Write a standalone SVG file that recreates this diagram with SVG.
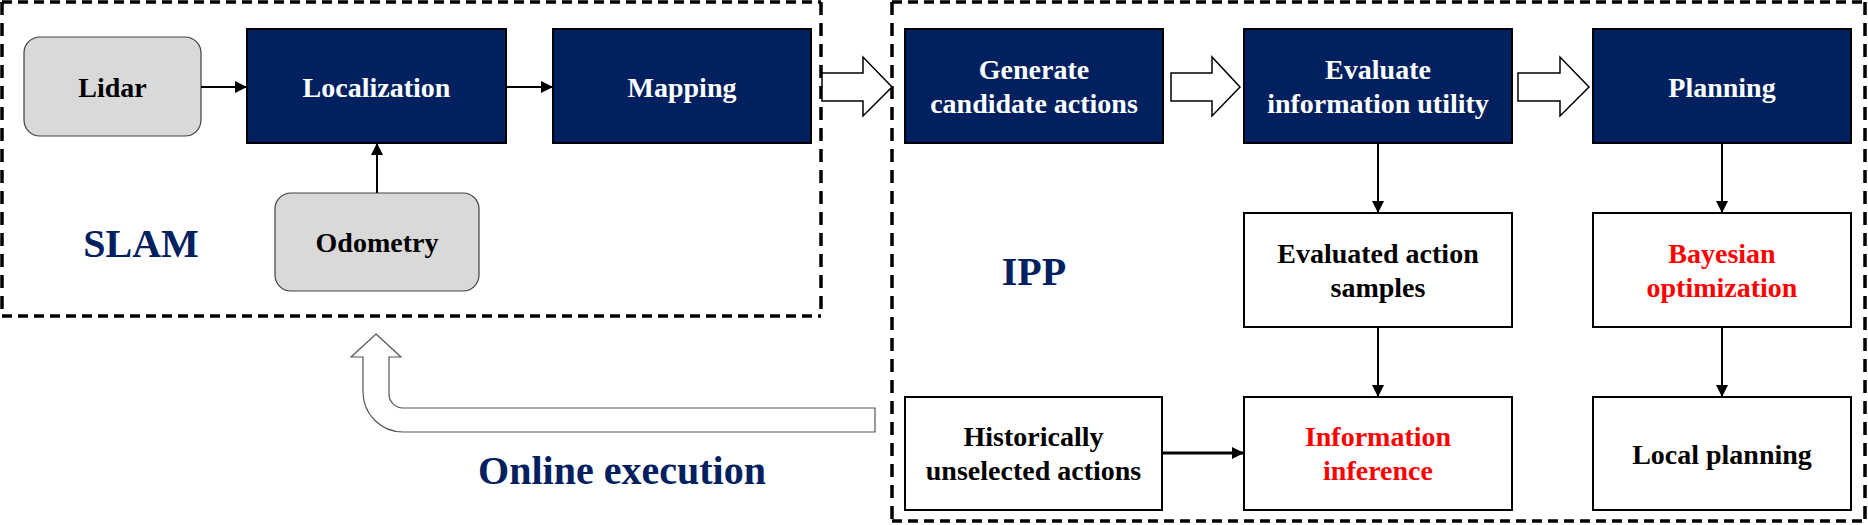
<svg xmlns="http://www.w3.org/2000/svg" width="1868" height="525" viewBox="0 0 1868 525">
<style>
  .t { font-family: "Liberation Serif", "Times New Roman", serif; font-weight: bold; text-anchor: middle; }
  .n { font-size: 28px; }
  .w { fill: #ffffff; }
  .k { fill: #000000; }
  .r { fill: #ff0000; }
  .big { font-size: 40px; fill: #002060; }
  .dark { fill: #002060; stroke: #000000; stroke-width: 2; }
  .white { fill: #ffffff; stroke: #000000; stroke-width: 2; }
  .grey { fill: #d9d9d9; stroke: #404040; stroke-width: 1.2; }
  .dh { fill: none; stroke: #000000; stroke-width: 3.5; stroke-dasharray: 10 6; }
  .dv { fill: none; stroke: #000000; stroke-width: 3.5; stroke-dasharray: 13 8; }
  .conn { fill: none; stroke: #000000; stroke-width: 2; }
  .block { fill: #ffffff; stroke: #000000; stroke-width: 1.5; }
  .bent { fill: #ffffff; stroke: #555555; stroke-width: 1.2; }
</style>
<defs>
  <marker id="ah" markerUnits="userSpaceOnUse" markerWidth="12" markerHeight="12" viewBox="0 0 12 12" refX="12" refY="6" orient="auto">
    <path d="M0,0 L12,6 L0,12 Z" fill="#000000"/>
  </marker>
</defs>

<g id="slam-frame">
  <path class="dh" d="M2,2 H821"/>
  <path class="dv" d="M821,2 V316"/>
  <path class="dh" d="M2,316 H821"/>
  <path class="dv" d="M2,2 V316"/>
  <text class="t big" x="141" y="257">SLAM</text>
</g>

<g id="ipp-frame">
  <path class="dh" d="M892,2 H1865"/>
  <path class="dv" d="M1865,2 V521"/>
  <path class="dh" d="M892,521 H1865"/>
  <path class="dv" d="M892,2 V521"/>
  <text class="t big" x="1034" y="285">IPP</text>
</g>

<g id="lidar">
  <rect class="grey" x="24" y="37" width="177" height="99" rx="16"/>
  <text class="t n k" x="112.5" y="97">Lidar</text>
</g>
<g id="localization">
  <rect class="dark" x="247" y="29" width="259" height="114"/>
  <text class="t n w" x="376.5" y="97">Localization</text>
</g>
<g id="mapping">
  <rect class="dark" x="553" y="29" width="258" height="114"/>
  <text class="t n w" x="682" y="97">Mapping</text>
</g>
<g id="odometry">
  <rect class="grey" x="275" y="193" width="204" height="98" rx="16"/>
  <text class="t n k" x="377" y="252">Odometry</text>
</g>

<g id="generate">
  <rect class="dark" x="905" y="29" width="258" height="114"/>
  <text class="t n w" x="1034" y="79">Generate</text>
  <text class="t n w" x="1034" y="113">candidate actions</text>
</g>
<g id="evaluate">
  <rect class="dark" x="1244" y="29" width="268" height="114"/>
  <text class="t n w" x="1378" y="79">Evaluate</text>
  <text class="t n w" x="1378" y="113">information utility</text>
</g>
<g id="planning">
  <rect class="dark" x="1593" y="29" width="258" height="114"/>
  <text class="t n w" x="1722" y="97">Planning</text>
</g>
<g id="evaluated-samples">
  <rect class="white" x="1244" y="213" width="268" height="114"/>
  <text class="t n k" x="1378" y="263">Evaluated action</text>
  <text class="t n k" x="1378" y="297">samples</text>
</g>
<g id="bayesian">
  <rect class="white" x="1593" y="213" width="258" height="114"/>
  <text class="t n r" x="1722" y="263">Bayesian</text>
  <text class="t n r" x="1722" y="297">optimization</text>
</g>
<g id="historical">
  <rect class="white" x="905" y="397" width="257" height="113"/>
  <text class="t n k" x="1033.5" y="446">Historically</text>
  <text class="t n k" x="1033.5" y="480">unselected actions</text>
</g>
<g id="inference">
  <rect class="white" x="1244" y="397" width="268" height="113"/>
  <text class="t n r" x="1378" y="446">Information</text>
  <text class="t n r" x="1378" y="480">inference</text>
</g>
<g id="local-planning">
  <rect class="white" x="1593" y="397" width="258" height="113"/>
  <text class="t n k" x="1722" y="464">Local planning</text>
</g>

<g id="online-execution">
  <text class="t big" x="622" y="484">Online execution</text>
</g>

<g id="connectors">
  <line class="conn" x1="201" y1="87" x2="247" y2="87" marker-end="url(#ah)"/>
  <line class="conn" x1="506" y1="87" x2="553" y2="87" marker-end="url(#ah)"/>
  <line class="conn" x1="377" y1="193" x2="377" y2="143" marker-end="url(#ah)"/>
  <line class="conn" x1="1378" y1="143" x2="1378" y2="213" marker-end="url(#ah)"/>
  <line class="conn" x1="1722" y1="143" x2="1722" y2="213" marker-end="url(#ah)"/>
  <line class="conn" x1="1378" y1="327" x2="1378" y2="397" marker-end="url(#ah)"/>
  <line class="conn" x1="1722" y1="327" x2="1722" y2="397" marker-end="url(#ah)"/>
  <line class="conn" style="stroke-width:3" x1="1162" y1="453" x2="1244" y2="453" marker-end="url(#ah)"/>
  <path class="block" d="M822,73 H863 V57 L892,87 L863,116 V101 H822 Z"/>
  <path class="block" d="M1171,73 H1212 V57 L1240,87 L1212,116 V101 H1171 Z"/>
  <path class="block" d="M1518,73 H1560 V57 L1589,87 L1560,116 V101 H1518 Z"/>
  <path class="bent" d="M376,334 L401,357 L389,357 L389,394 A14,14 0 0 0 403,408 L875,408 L875,432 L403,432 A40,40 0 0 1 363,392 L363,357 L351,357 Z"/>
</g>
</svg>
